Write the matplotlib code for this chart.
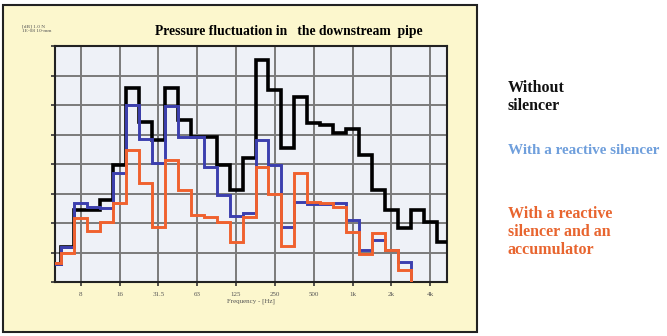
import matplotlib.pyplot as plt
from matplotlib.patches import Rectangle
import numpy as np

# 1/3-octave band index: 0 = 8 Hz, 3 = 16 Hz, ... 27 = 4 kHz
bands = np.arange(-2, 29)
freq_labels = ['8', '16', '31.5', '63', '125', '250', '500', '1k', '2k', '4k']

without_silencer = [0.6, 1.2, 2.44, 2.44, 2.78, 3.97, 6.57, 5.42, 4.81, 6.57,
                    5.49, 4.92, 4.92, 3.97, 3.12, 4.2, 7.53, 6.5, 4.54, 6.27,
                    5.39, 5.32, 5.05, 5.2, 4.3, 3.12, 2.44, 1.83, 2.44, 2.03, 1.36]
reactive = [0.6, 1.19, 2.68, 2.55, 2.5, 3.69, 6.0, 4.85, 4.05, 5.95,
            4.9, 4.9, 3.9, 2.95, 2.25, 2.35, 4.81, 3.95, 1.86, 2.71,
            2.65, 2.65, 2.68, 2.1, 1.08, 1.42, 1.08, 0.68]
reactive_acc = [0.64, 0.98, 2.17, 1.72, 2.05, 2.68, 4.47, 3.37, 1.86, 4.13,
                3.12, 2.27, 2.2, 2.03, 1.34, 2.2, 3.9, 3.0, 1.22, 3.69,
                2.71, 2.68, 2.54, 1.69, 0.95, 1.67, 1.08, 0.41]

fig = plt.figure(figsize=(6.67, 3.36), dpi=100)
fig.patch.set_facecolor('white')

# yellow panel behind the chart
fig.patches.append(Rectangle((3 / 667, 1 - 332 / 336), 474 / 667, 327 / 336,
                             transform=fig.transFigure, facecolor='#fcf7cd',
                             edgecolor='#222222', linewidth=1.5, zorder=-5))

ax = fig.add_axes([55 / 667, 1 - 282 / 336, 392 / 667, 236 / 336])
ax.set_zorder(2)
ax.set_facecolor('#eef1f7')

def edges(vals):
    return np.arange(len(vals) + 1) - 2.5

ax.stairs(without_silencer, edges(without_silencer), baseline=0, color='black', linewidth=2.6, zorder=3)
ax.stairs(reactive, edges(reactive), baseline=0, color='#3c3fae', linewidth=2.1, zorder=4)
ax.stairs(reactive_acc, edges(reactive_acc), baseline=0, color='#f0612e', linewidth=2.1, zorder=5)

ax.set_xlim(-2.0, 28.3)
ax.set_ylim(0, 8)
ax.set_xticks(np.arange(0, 30, 3))
ax.set_xticklabels(freq_labels, fontsize=5, color='#555555', family='Liberation Serif')
ax.set_yticks(np.arange(0, 9, 1))
ax.set_yticklabels([])
ax.tick_params(direction='out', length=3, width=1.2, colors='#333333', pad=4)
ax.tick_params(axis='x', labelcolor='#555555')
ax.grid(True, color='#7a7a7a', linewidth=1.4, zorder=1)
ax.set_axisbelow(True)
for s in ax.spines.values():
    s.set_color('#222222')
    s.set_linewidth(1.5)
ax.set_xlabel('Frequency - [Hz]', fontsize=5, color='#555555', family='Liberation Serif', labelpad=1.5)

fig.text(289 / 667, 1 - 32 / 336, 'Pressure fluctuation in   the downstream  pipe',
         fontsize=9.8, fontweight='bold', family='Liberation Serif', ha='center', va='center')
fig.text(22 / 667, 1 - 29 / 336, '[dB] 1.0 N\n1E-08 10-mm', fontsize=3.8,
         color='#555555', family='Liberation Serif', ha='left', va='center', linespacing=1.1)

fig.text(508 / 667, 1 - 97 / 336, 'Without\nsilencer', fontsize=11.5, fontweight='bold',
         family='Liberation Serif', color='#111111', ha='left', va='center', linespacing=1.2)
fig.text(508 / 667, 1 - 150 / 336, 'With a reactive silencer', fontsize=10.9, fontweight='bold',
         family='Liberation Serif', color='#6f9fdc', ha='left', va='center')
fig.text(508 / 667, 1 - 232 / 336, 'With a reactive\nsilencer and an\naccumulator', fontsize=11.5,
         fontweight='bold', family='Liberation Serif', color='#e8652f', ha='left', va='center',
         linespacing=1.2)

fig.savefig('out.png', dpi=100)
